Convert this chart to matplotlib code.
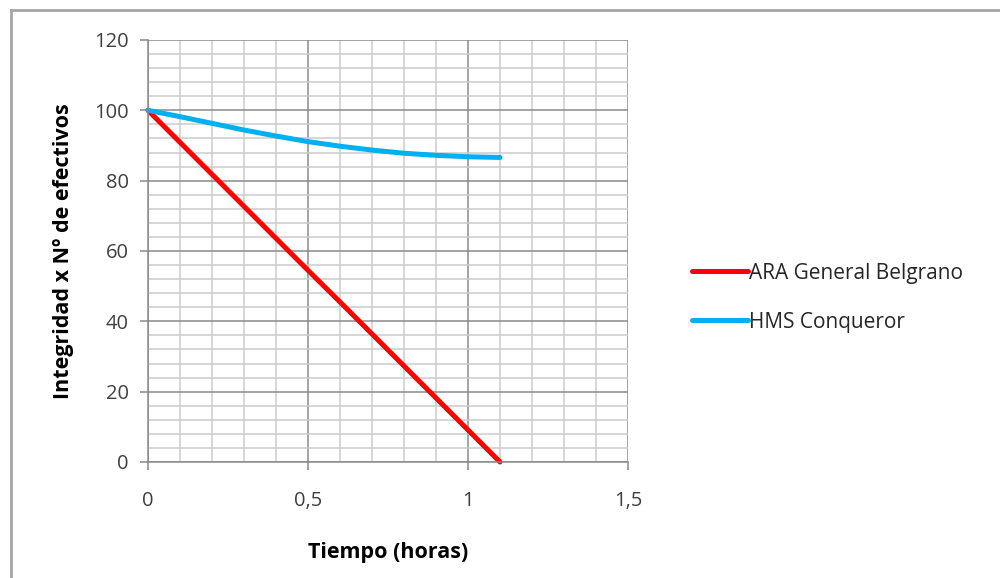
import matplotlib
matplotlib.use("Agg")
import matplotlib.pyplot as plt
from matplotlib.lines import Line2D
from matplotlib.ticker import MultipleLocator

# Data
tiempo = [0.0, 0.1, 0.2, 0.3, 0.4, 0.5, 0.6, 0.7, 0.8, 0.9, 1.0, 1.1]
belgrano = [100.0, 90.9, 81.8, 72.7, 63.6, 54.5, 45.5, 36.4, 27.3, 18.2, 9.1, 0.0]
conqueror = [100.0, 98.2, 96.3, 94.4, 92.7, 91.1, 89.8, 88.7, 87.8, 87.2, 86.8, 86.6]
series_names = ["ARA General Belgrano", "HMS Conqueror"]
x_ticks = [0, 0.5, 1, 1.5]
x_tick_labels = ["0", "0,5", "1", "1,5"]
y_ticks = [0, 20, 40, 60, 80, 100, 120]

plt.rcParams['font.family'] = ['Open Sans', 'DejaVu Sans']

fig = plt.figure(figsize=(10, 5.78), dpi=100)
ax = fig.add_axes([0.148, 0.2007, 0.48, 0.7301])

ax.set_xlim(0, 1.5)
ax.set_ylim(0, 120)
ax.xaxis.set_minor_locator(MultipleLocator(0.1))
ax.yaxis.set_minor_locator(MultipleLocator(4))
ax.set_xticks(x_ticks)
ax.set_xticklabels(x_tick_labels)
ax.set_yticks(y_ticks)

ax.grid(which='major', color='#8a8a8a', linewidth=1.1)
ax.grid(which='minor', color='#cccccc', linewidth=1.1)
ax.set_axisbelow(True)

for s in ['top', 'right']:
    ax.spines[s].set_visible(False)
ax.spines['left'].set_color('#8a8a8a')
ax.spines['bottom'].set_color('#8a8a8a')
ax.spines['left'].set_linewidth(1.1)
ax.spines['bottom'].set_linewidth(1.1)

ax.tick_params(which='major', length=6, width=1.1, color='#8a8a8a',
               labelsize=14.5, labelcolor='#404040', pad=8)
ax.tick_params(which='minor', length=0)
ax.tick_params(axis='x', pad=15)

l1, = ax.plot(tiempo, belgrano, color='#ff0000', linewidth=3.6, solid_capstyle='round', clip_on=False)
l2, = ax.plot(tiempo, conqueror, color='#00b0f0', linewidth=3.6, solid_capstyle='round', clip_on=False)

ax.set_xlabel("Tiempo (horas)", fontsize=15.5, fontweight='bold', labelpad=22)
ax.set_ylabel("Integridad x Nº de efectivos", fontsize=15.5, fontweight='bold', labelpad=14)

leg = fig.legend([l1, l2], series_names, loc='center left',
                 bbox_to_anchor=(0.673, 0.485), frameon=False, fontsize=15,
                 handlelength=2.7, handletextpad=0.05, labelspacing=1.35,
                 labelcolor='#262626')

# outer chart border
fig.add_artist(Line2D([0.011, 0.011], [0, 1 - 10 / 578], color='#a6a6a6', linewidth=2,
                      transform=fig.transFigure))
fig.add_artist(Line2D([0.011, 1], [1 - 10 / 578, 1 - 10 / 578], color='#a6a6a6', linewidth=2,
                      transform=fig.transFigure))

fig.savefig("out.png", dpi=100)
